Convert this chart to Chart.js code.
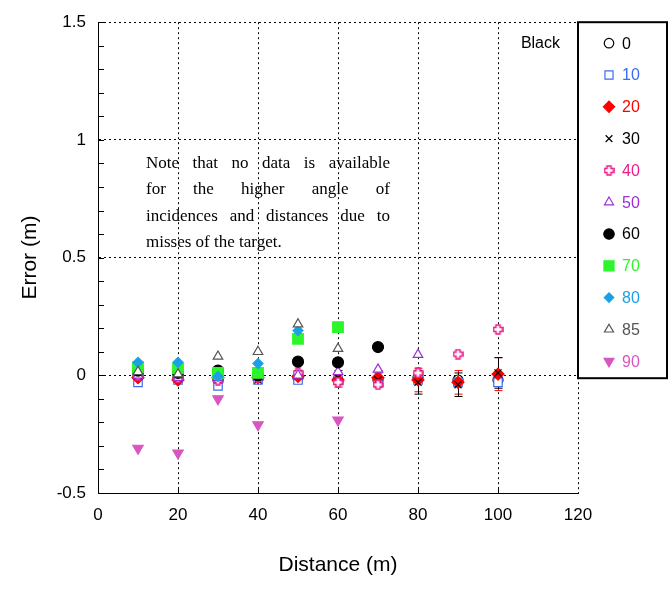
<!DOCTYPE html>
<html>
<head>
<meta charset="utf-8">
<script src="https://cdn.jsdelivr.net/npm/chart.js@4.4.1/dist/chart.umd.min.js"></script>
<style>
  html, body { margin: 0; padding: 0; background: #fff; }
  #wrap { width: 670px; height: 592px; }
</style>
</head>
<body>
<div id="wrap"><canvas id="errChart" width="670" height="592"></canvas></div>
<script>
// data (error in metres vs distance)
const distances = [10, 20, 30, 40, 50, 60, 70, 80, 90, 100];
const angleLabels = ['0', '10', '20', '30', '40', '50', '60', '70', '80', '85', '90'];

const err0  = [0.0, -0.01, -0.02, -0.01, -0.01, -0.02, -0.02, -0.01, -0.02, -0.02];
const err10 = [-0.03, -0.02, -0.045, -0.02, -0.02, -0.02, -0.03, -0.02, -0.03, -0.03];
const err20 = [-0.01, -0.02, -0.01, -0.01, -0.005, -0.02, -0.01, -0.02, -0.03, 0.005];
const err30 = [0.0, -0.01, -0.02, -0.02, 0.0, -0.01, -0.02, -0.03, -0.04, 0.01];
const err40 = [0.0, -0.01, -0.02, -0.01, 0.01, -0.03, -0.04, 0.01, 0.09, 0.195];
const err50 = [0.0, -0.01, -0.01, -0.01, 0.0, 0.015, 0.025, 0.088, null, null];
const err60 = [0.02, 0.01, 0.02, 0.0, 0.058, 0.055, 0.12, null, null, null];
const err70 = [0.035, 0.03, 0.01, 0.01, 0.155, 0.205, null, null, null, null];
const err80 = [0.055, 0.055, -0.005, 0.05, 0.19, null, null, null, null, null];
const err85 = [0.015, 0.005, 0.08, 0.10, 0.217, 0.113, null, null, null, null];
const err90 = [-0.31, -0.33, -0.10, -0.21, null, -0.19, null, null, null, null];

// +/- spread shown as error bars
const spread20 = [0, 0, 0, 0, 0, 0.03, 0.03, 0.05, 0.05, 0.07];
const spread30 = [0.01, 0.01, 0.015, 0.015, 0.02, 0.03, 0.03, 0.05, 0.05, 0.065];

const xTicks = [0, 20, 40, 60, 80, 100, 120];
const yTicks = [-0.5, 0, 0.5, 1, 1.5];

const noteLines = [
  'Note that no data is available',
  'for the higher angle of',
  'incidences and distances due to',
  'misses of the target.'
];

// open plus marker (no built in style for it)
function makePlus(color) {
  const c = document.createElement('canvas');
  c.width = 11; c.height = 11;
  const g = c.getContext('2d');
  const p = [[3.5,1],[7.5,1],[7.5,3.5],[10,3.5],[10,7.5],[7.5,7.5],[7.5,10],[3.5,10],[3.5,7.5],[1,7.5],[1,3.5],[3.5,3.5]];
  g.beginPath();
  p.forEach((q, i) => i ? g.lineTo(q[0], q[1]) : g.moveTo(q[0], q[1]));
  g.closePath();
  g.fillStyle = '#fff';
  g.fill();
  g.strokeStyle = color;
  g.lineWidth = 1.6;
  g.stroke();
  return c;
}

const seriesValues = [err0, err10, err20, err30, err40, err50, err60, err70, err80, err85, err90];
const seriesStyle = [
  { color: '#000000', style: 'circle',   fill: '#ffffff', r: 5 },
  { color: '#3a6cf4', style: 'rect',     fill: '#ffffff', r: 6 },
  { color: '#ff0000', style: 'rectRot',  fill: '#ff0000', r: 6 },
  { color: '#000000', style: 'crossRot', fill: '#000000', r: 5 },
  { color: '#ee1c8c', style: makePlus('#ee1c8c'), fill: '#ffffff', r: 6 },
  { color: '#9b30d9', style: 'triangle', fill: '#ffffff', r: 5.5 },
  { color: '#000000', style: 'circle',   fill: '#000000', r: 5.5 },
  { color: '#2cf52c', style: 'rect',     fill: '#2cf52c', r: 7.5 },
  { color: '#1aa0e6', style: 'rectRot',  fill: '#1aa0e6', r: 5 },
  { color: '#555555', style: 'triangle', fill: '#ffffff', r: 5.5 },
  { color: '#d856c0', style: 'triangle', fill: '#d856c0', r: 6, rot: 180 }
];
const labelColors = ['#000000', '#3a6cf4', '#ff0000', '#000000', '#ee1c8c', '#9b30d9',
                     '#000000', '#2cf52c', '#1aa0e6', '#555555', '#d856c0'];

const datasets = seriesValues.map((vals, i) => {
  const s = seriesStyle[i];
  return {
    label: angleLabels[i],
    data: distances.map((d, k) => ({ x: d, y: vals[k] })).filter(p => p.y !== null),
    pointStyle: s.style,
    pointRotation: s.rot || 0,
    pointRadius: s.r,
    pointBorderWidth: 1.2,
    borderColor: s.color,
    backgroundColor: s.fill,
    showLine: false,
    order: -i
  };
});

const FONT = '"Liberation Sans", Arial, sans-serif';

const extras = {
  id: 'extras',
  beforeDatasetsDraw(chart) {
    const { ctx, scales: { x, y } } = chart;
    ctx.save();
    // error bars
    const bars = [[err20, spread20, '#ff0000'], [err30, spread30, '#000000']];
    bars.forEach(([vals, sp, col]) => {
      ctx.strokeStyle = col;
      ctx.lineWidth = 1;
      distances.forEach((d, k) => {
        if (vals[k] === null || !sp[k]) return;
        const px = Math.round(x.getPixelForValue(d)) + 0.5;
        const top = y.getPixelForValue(vals[k] + sp[k]);
        const bot = y.getPixelForValue(vals[k] - sp[k]);
        ctx.beginPath();
        ctx.moveTo(px, top); ctx.lineTo(px, bot);
        ctx.moveTo(px - 4, top); ctx.lineTo(px + 4, top);
        ctx.moveTo(px - 4, bot); ctx.lineTo(px + 4, bot);
        ctx.stroke();
      });
    });
    ctx.restore();
  },
  afterDraw(chart) {
    const { ctx, chartArea: a, scales: { x, y } } = chart;
    ctx.save();
    // tick marks: minor on y every 0.1, major on x
    ctx.strokeStyle = '#000';
    ctx.lineWidth = 1;
    ctx.beginPath();
    for (let v = -5; v <= 15; v++) {
      const py = Math.round(y.getPixelForValue(v / 10)) + 0.5;
      ctx.moveTo(a.left, py); ctx.lineTo(a.left + 6, py);
    }
    xTicks.slice(1, -1).forEach(v => {
      const px = Math.round(x.getPixelForValue(v)) + 0.5;
      ctx.moveTo(px, a.bottom); ctx.lineTo(px, a.bottom - 6);
    });
    ctx.stroke();

    // note, justified
    ctx.fillStyle = '#000';
    ctx.font = '17px "Liberation Serif", "Times New Roman", serif';
    ctx.textBaseline = 'middle';
    const nx = x.getPixelForValue(12);
    const nw = x.getPixelForValue(73) - nx;
    let ny = y.getPixelForValue(0.9);
    noteLines.forEach((line, li) => {
      const words = line.split(' ');
      const last = li === noteLines.length - 1;
      const wordsW = words.reduce((s, w) => s + ctx.measureText(w).width, 0);
      const gap = last ? ctx.measureText(' ').width : (nw - wordsW) / (words.length - 1);
      let cx = nx;
      words.forEach(w => {
        ctx.fillText(w, cx, ny);
        cx += ctx.measureText(w).width + gap;
      });
      ny += 26.3;
    });

    // "Black" label
    ctx.font = '16px ' + FONT;
    ctx.textAlign = 'right';
    ctx.fillText('Black', x.getPixelForValue(115.5), y.getPixelForValue(1.41));

    // legend box
    const lx = a.right, ly = a.top, lw = 89, lh = 356;
    ctx.fillStyle = '#fff';
    ctx.fillRect(lx, ly, lw, lh);
    ctx.strokeStyle = '#000';
    ctx.lineWidth = 2;
    ctx.strokeRect(lx, ly, lw, lh);
    ctx.textAlign = 'left';
    ctx.font = '16px ' + FONT;
    chart.data.datasets.forEach((ds, i) => {
      const cy = ly + 21 + i * 31.8;
      ctx.fillStyle = ds.backgroundColor;
      ctx.strokeStyle = ds.borderColor;
      ctx.lineWidth = 1.2;
      Chart.helpers.drawPoint(ctx, {
        pointStyle: ds.pointStyle, rotation: ds.pointRotation,
        radius: ds.pointRadius * 0.95, borderWidth: 1.2
      }, lx + 31, cy);
      ctx.fillStyle = labelColors[i];
      ctx.fillText(ds.label, lx + 44, cy + 1);
    });
    ctx.restore();
  }
};

new Chart(document.getElementById('errChart'), {
  type: 'scatter',
  data: { datasets },
  plugins: [extras],
  options: {
    responsive: false,
    animation: false,
    layout: { padding: { left: 18, right: 92, top: 14, bottom: 0 } },
    plugins: { legend: { display: false }, tooltip: { enabled: false } },
    scales: {
      x: {
        type: 'linear', min: 0, max: 120,
        afterBuildTicks: s => { s.ticks = xTicks.map(v => ({ value: v })); },
        afterFit: s => { s.height = 99; },
        ticks: { color: '#000', padding: 12, font: { family: FONT, size: 17 } },
        grid: { color: '#000', lineWidth: 1, drawTicks: false },
        border: { display: true, color: '#000', width: 1, dash: [2, 3] },
        title: { display: true, text: 'Distance (m)', color: '#000',
                 font: { family: FONT, size: 21 }, padding: { top: 0, bottom: 14 } }
      },
      y: {
        type: 'linear', min: -0.5, max: 1.5,
        afterBuildTicks: s => { s.ticks = yTicks.map(v => ({ value: v })); },
        afterFit: s => { s.width = 80; },
        ticks: { color: '#000', padding: 12, font: { family: FONT, size: 17 },
                 callback: v => String(v) },
        grid: { color: '#000', lineWidth: 1, drawTicks: false },
        border: { display: true, color: '#000', width: 1, dash: [2, 3] },
        title: { display: true, text: 'Error (m)', color: '#000',
                 font: { family: FONT, size: 21 }, padding: 0 }
      }
    }
  }
});
</script>
</body>
</html>
